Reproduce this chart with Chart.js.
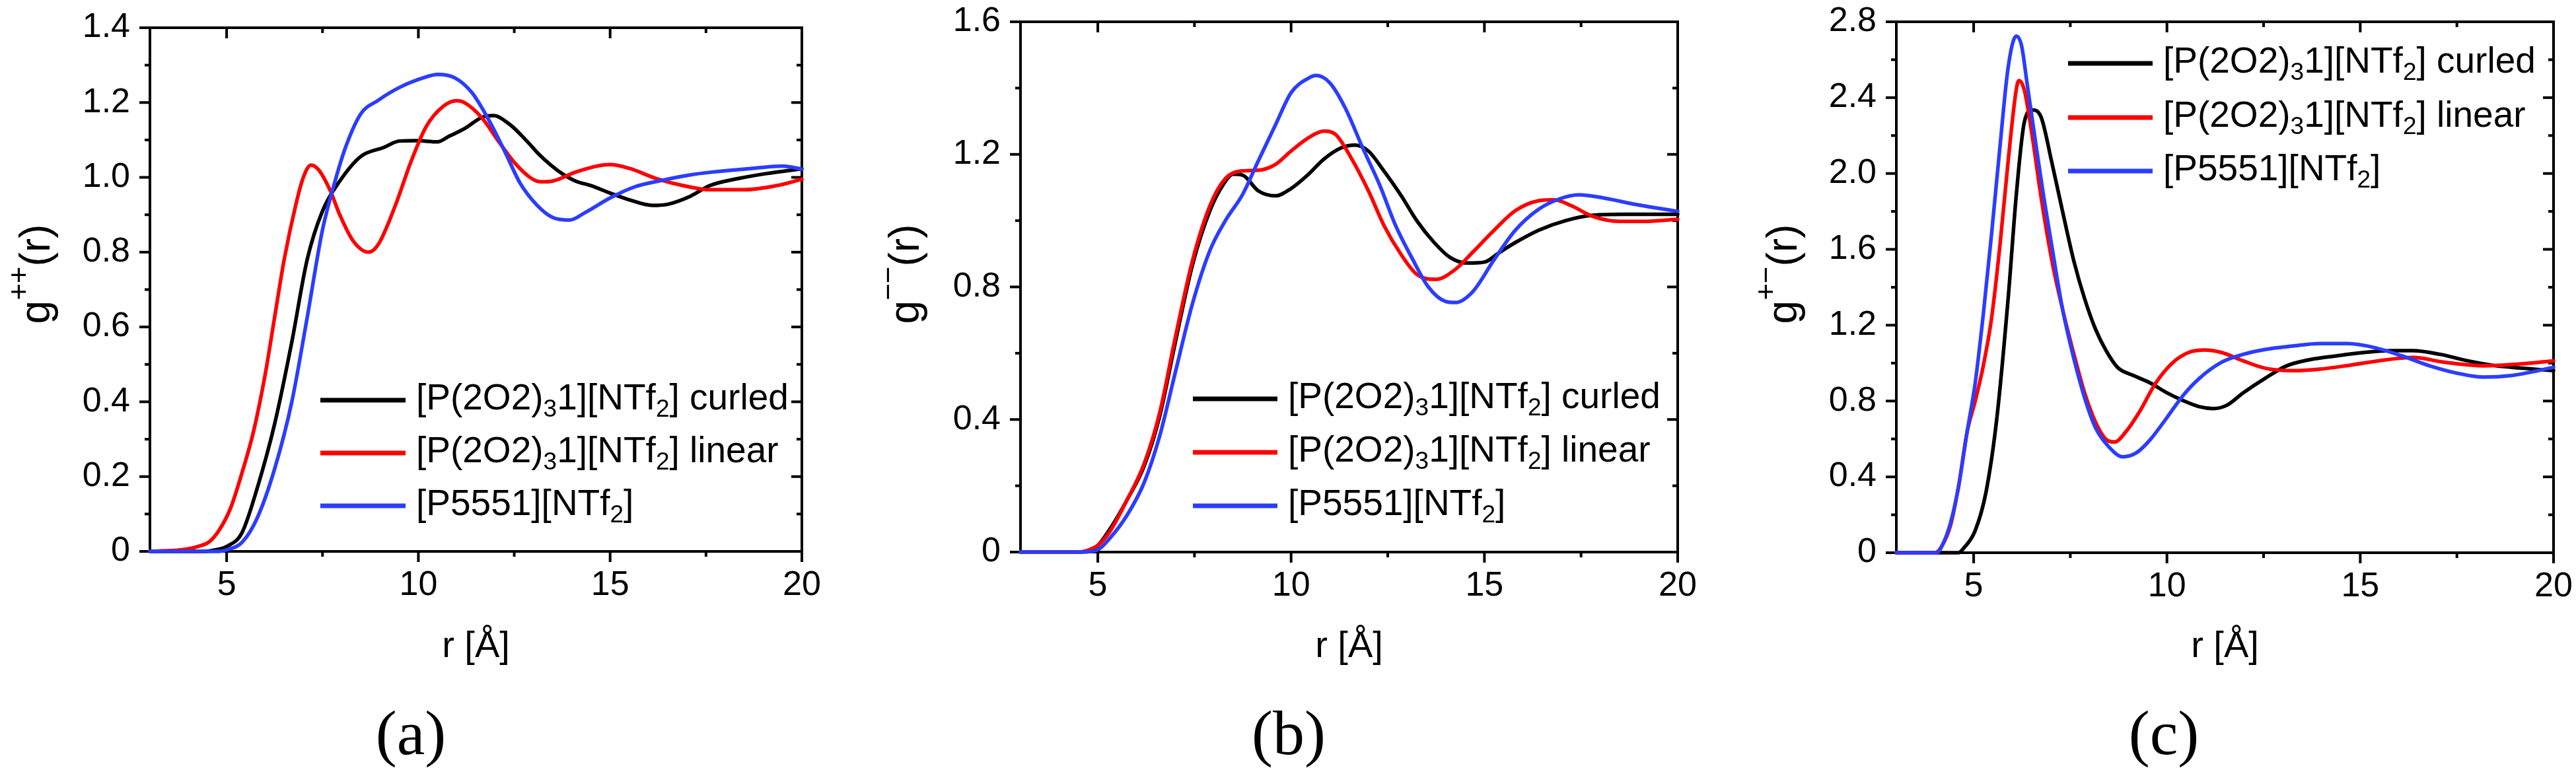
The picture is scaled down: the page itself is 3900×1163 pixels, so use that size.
<!DOCTYPE html>
<html>
<head>
<meta charset="utf-8">
<script src="https://cdn.jsdelivr.net/npm/chart.js@4.4.1/dist/chart.umd.min.js"></script>
<style>
  html, body { margin: 0; padding: 0; background: #fff; }
  body { width: 3900px; height: 1163px; position: relative; overflow: hidden; }
  canvas { position: absolute; top: 0; }
  .tag { position: absolute; top: 1062px; width: 300px; text-align: center;
         font-family: "Liberation Serif", "Times New Roman", serif; font-size: 96px; line-height: 96px; color: #000; }
</style>
</head>
<body>
<canvas id="panelA" width="1300" height="1163" style="left:0px"></canvas>
<canvas id="panelB" width="1300" height="1163" style="left:1300px"></canvas>
<canvas id="panelC" width="1300" height="1163" style="left:2600px"></canvas>
<div class="tag" style="left:472px">(a)</div>
<div class="tag" style="left:1801px">(b)</div>
<div class="tag" style="left:3126px">(c)</div>
<script>
(function () {
  'use strict';

  const PANEL_W = 1300, H = 1163;
  const FONT = '"Liberation Sans", Arial, sans-serif';

  // series names (_{} = subscript, ^{} = superscript) and colours
  const seriesNames  = ['[P(2O2)_{3}1][NTf_{2}] curled', '[P(2O2)_{3}1][NTf_{2}] linear', '[P5551][NTf_{2}]'];
  const seriesColors = ['#000000', '#ff0000', '#2b3dff'];

  const xTitle  = 'r [Å]';
  const yTitles = ['g^{++}(r)', 'g^{−−}(r)', 'g^{+−}(r)'];

  const xTicks  = [5, 10, 15, 20];
  const yTicksA = [0, 0.2, 0.4, 0.6, 0.8, 1.0, 1.2, 1.4];
  const yLabelsA = ['0', '0.2', '0.4', '0.6', '0.8', '1.0', '1.2', '1.4'];
  const yTicksB = [0, 0.4, 0.8, 1.2, 1.6];
  const yLabelsB = ['0', '0.4', '0.8', '1.2', '1.6'];
  const yTicksC = [0, 0.4, 0.8, 1.2, 1.6, 2.0, 2.4, 2.8];
  const yLabelsC = ['0', '0.4', '0.8', '1.2', '1.6', '2.0', '2.4', '2.8'];

  // (a) g++(r)
  const ppCurled = [[3,0],[4.4,0],[4.7,0.004],[5.0,0.013],[5.4,0.05],[5.8,0.17],[6.25,0.34],[6.7,0.56],[7.1,0.78],[7.5,0.91],[7.95,0.99],[8.5,1.056],[9.1,1.08],[9.5,1.097],[9.95,1.098],[10.5,1.095],[10.8,1.11],[11.2,1.13],[11.65,1.16],[11.95,1.165],[12.4,1.14],[12.8,1.10],[13.2,1.056],[13.65,1.017],[14.1,0.99],[14.5,0.978],[15.0,0.958],[15.5,0.94],[16.1,0.925],[16.5,0.928],[17.1,0.95],[17.6,0.978],[18.35,0.997],[19.07,1.01],[20,1.023]];
  const ppLinear = [[3,0],[3.5,0.002],[3.8,0.004],[4.25,0.013],[4.55,0.026],[4.8,0.056],[5.1,0.115],[5.4,0.21],[5.7,0.32],[6.0,0.47],[6.25,0.625],[6.5,0.78],[6.8,0.925],[7.0,1.0],[7.2,1.033],[7.4,1.02],[7.7,0.965],[7.95,0.9],[8.3,0.83],[8.7,0.80],[8.95,0.82],[9.4,0.925],[9.8,1.04],[10.2,1.135],[10.65,1.19],[11.0,1.205],[11.2,1.2],[11.65,1.16],[12.1,1.095],[12.5,1.04],[12.95,0.997],[13.2,0.988],[13.5,0.99],[14.1,1.014],[14.65,1.03],[15.0,1.034],[15.5,1.024],[16.2,0.997],[16.9,0.978],[17.6,0.967],[18.5,0.967],[19.35,0.978],[20,0.995]];
  const ppP5551  = [[3,0],[4.8,0],[5.0,0.004],[5.4,0.024],[5.8,0.09],[6.25,0.22],[6.7,0.40],[7.1,0.625],[7.5,0.86],[7.8,0.98],[8.1,1.08],[8.5,1.17],[8.95,1.206],[9.5,1.24],[10.1,1.265],[10.5,1.275],[10.95,1.266],[11.4,1.226],[11.8,1.16],[12.25,1.07],[12.65,0.985],[13.1,0.925],[13.5,0.893],[13.95,0.886],[14.35,0.906],[15.0,0.945],[15.65,0.975],[16.35,0.992],[17.05,1.006],[17.65,1.014],[18.8,1.025],[19.5,1.03],[20,1.022]];

  // (b) g--(r)
  const mmCurled = [[3,0],[4.5,0],[4.8,0.006],[5.0,0.02],[5.3,0.067],[5.75,0.156],[6.2,0.26],[6.6,0.41],[7.0,0.63],[7.45,0.867],[7.9,1.03],[8.25,1.11],[8.5,1.14],[8.75,1.137],[9.15,1.09],[9.6,1.075],[10.0,1.097],[10.45,1.14],[10.85,1.186],[11.3,1.22],[11.65,1.228],[12.0,1.21],[12.4,1.15],[12.85,1.075],[13.25,1.0],[13.7,0.934],[14.1,0.89],[14.55,0.872],[15.0,0.875],[15.4,0.905],[15.8,0.934],[16.4,0.971],[17.1,1.0],[17.8,1.016],[18.65,1.019],[20,1.019]];
  const mmLinear = [[3,0],[4.5,0],[4.8,0.008],[5.0,0.02],[5.3,0.06],[5.75,0.156],[6.2,0.267],[6.6,0.42],[7.0,0.645],[7.45,0.88],[7.9,1.045],[8.3,1.127],[8.75,1.15],[9.15,1.152],[9.6,1.17],[10.0,1.21],[10.45,1.25],[10.85,1.27],[11.15,1.26],[11.55,1.19],[12.0,1.09],[12.4,0.986],[12.85,0.897],[13.25,0.838],[13.75,0.823],[14.25,0.853],[14.7,0.905],[15.25,0.971],[15.8,1.03],[16.4,1.06],[16.8,1.063],[17.25,1.045],[17.8,1.013],[18.5,0.998],[19.2,0.998],[20,1.004]];
  const mmP5551  = [[3,0],[4.6,0],[5.0,0.007],[5.3,0.04],[5.75,0.11],[6.2,0.21],[6.6,0.35],[7.0,0.54],[7.45,0.75],[7.9,0.91],[8.3,1.0],[8.75,1.08],[9.15,1.18],[9.6,1.29],[10.0,1.386],[10.45,1.43],[10.65,1.438],[11.0,1.416],[11.4,1.34],[11.85,1.22],[12.3,1.105],[12.7,0.986],[13.15,0.882],[13.55,0.80],[14.0,0.756],[14.25,0.753],[14.7,0.786],[15.25,0.882],[15.8,0.971],[16.4,1.034],[16.95,1.066],[17.45,1.078],[18.1,1.068],[18.95,1.048],[20,1.028]];

  // (c) g+-(r)
  const pmCurled = [[3,0],[4.6,0],[4.75,0.026],[5.04,0.117],[5.32,0.32],[5.6,0.71],[5.9,1.36],[6.1,1.88],[6.31,2.27],[6.52,2.335],[6.74,2.30],[7.02,2.06],[7.3,1.80],[7.59,1.54],[7.87,1.34],[8.15,1.18],[8.43,1.064],[8.72,0.978],[9.14,0.934],[9.57,0.895],[10.0,0.843],[10.4,0.804],[10.84,0.77],[11.2,0.76],[11.55,0.778],[11.97,0.843],[12.54,0.92],[13.1,0.986],[13.67,1.017],[14.38,1.038],[15.1,1.056],[15.8,1.066],[16.36,1.066],[17.07,1.046],[17.78,1.012],[18.5,0.986],[19.2,0.973],[20,0.96]];
  const pmLinear = [[3,0],[4.0,0],[4.19,0.04],[4.4,0.143],[4.61,0.35],[4.83,0.636],[5.04,0.80],[5.25,0.986],[5.46,1.232],[5.68,1.62],[5.89,2.06],[6.1,2.44],[6.17,2.49],[6.31,2.44],[6.52,2.19],[6.74,1.88],[7.02,1.544],[7.3,1.284],[7.59,1.05],[7.87,0.843],[8.15,0.69],[8.43,0.597],[8.65,0.584],[8.93,0.636],[9.28,0.74],[9.71,0.895],[10.13,0.999],[10.56,1.056],[10.98,1.069],[11.41,1.056],[11.97,1.012],[12.54,0.973],[13.25,0.96],[13.95,0.968],[14.8,0.991],[15.65,1.017],[16.36,1.03],[17.2,1.004],[18.2,0.986],[19.05,0.994],[20,1.012]];
  const pmP5551  = [[3,0],[4.05,0],[4.19,0.04],[4.4,0.156],[4.61,0.35],[4.83,0.636],[5.04,0.895],[5.25,1.258],[5.46,1.674],[5.68,2.14],[5.89,2.556],[6.1,2.724],[6.24,2.673],[6.38,2.478],[6.6,2.167],[6.81,1.88],[7.02,1.62],[7.3,1.284],[7.59,1.025],[7.87,0.817],[8.15,0.66],[8.5,0.558],[8.86,0.506],[9.21,0.527],[9.57,0.597],[10.0,0.713],[10.42,0.83],[10.84,0.92],[11.41,1.004],[11.97,1.046],[12.54,1.072],[13.25,1.09],[13.95,1.103],[14.66,1.103],[15.37,1.082],[16.08,1.038],[16.79,0.986],[17.5,0.947],[18.2,0.926],[18.9,0.934],[19.6,0.96],[20,0.978]];

  // split 'g^{++}(r)' into runs of normal / sub / super text
  function parseRich(s) {
    const parts = [];
    const re = /([_^])\{([^}]*)\}/g;
    let last = 0, m;
    while ((m = re.exec(s))) {
      if (m.index > last) parts.push({ t: s.slice(last, m.index), k: 0 });
      parts.push({ t: m[2], k: m[1] === '_' ? -1 : 1 });
      last = re.lastIndex;
    }
    if (last < s.length) parts.push({ t: s.slice(last), k: 0 });
    return parts;
  }

  function drawRich(ctx, s, x, y, size, center) {
    const parts = parseRich(s);
    const small = Math.round(size * 0.68);
    let w = 0;
    parts.forEach(p => {
      ctx.font = (p.k ? small : size) + 'px ' + FONT;
      p.w = ctx.measureText(p.t).width;
      w += p.w;
    });
    let cx = center ? x - w / 2 : x;
    parts.forEach(p => {
      ctx.font = (p.k ? small : size) + 'px ' + FONT;
      const dy = p.k === -1 ? size * 0.2 : (p.k === 1 ? -size * 0.5 : 0);
      ctx.fillText(p.t, cx, y + dy);
      cx += p.w;
    });
  }

  // major ticks 16px, minor ticks (midpoints) 8px
  function withMinor(arr) {
    const out = arr.map(v => [v, 16]);
    for (let i = 0; i < arr.length - 1; i++) out.push([(arr[i] + arr[i + 1]) / 2, 8]);
    return out;
  }

  const panelPlugin = {
    id: 'panel',
    beforeDatasetsDraw(chart, args, o) {
      const { ctx, chartArea: a, scales: { x, y } } = chart;
      ctx.save();
      ctx.strokeStyle = '#000';
      ctx.lineWidth = 4;
      ctx.strokeRect(a.left, a.top, a.right - a.left, a.bottom - a.top);
      const mark = (px, py, dx, dy) => { ctx.beginPath(); ctx.moveTo(px, py); ctx.lineTo(px + dx, py + dy); ctx.stroke(); };
      withMinor(o.xTicks).forEach(([v, len]) => {
        const px = x.getPixelForValue(v);
        mark(px, a.bottom, 0, len);     // outward
        mark(px, a.top, 0, len);        // inward mirror
      });
      withMinor(o.yTicks).forEach(([v, len]) => {
        const py = y.getPixelForValue(v);
        mark(a.left, py, -len, 0);      // outward
        mark(a.right, py, -len, 0);     // inward mirror
      });
      ctx.restore();
    },
    afterDraw(chart, args, o) {
      const { ctx, chartArea: a } = chart;
      ctx.save();
      ctx.fillStyle = '#000';
      ctx.textAlign = 'left';
      ctx.textBaseline = 'alphabetic';
      drawRich(ctx, xTitle, (a.left + a.right) / 2, o.xTitleY, 56, true);
      ctx.save();
      ctx.translate(o.yTitleX, o.yTitleY);
      ctx.rotate(-Math.PI / 2);
      drawRich(ctx, o.yTitle, 0, 0, 64, true);
      ctx.restore();
      const L = o.legend;
      chart.data.datasets.forEach((ds, i) => {
        const ry = L.rows[i];
        ctx.strokeStyle = ds.borderColor;
        ctx.lineWidth = 7;
        ctx.beginPath();
        ctx.moveTo(L.x0, ry);
        ctx.lineTo(L.x1, ry);
        ctx.stroke();
        ctx.fillStyle = '#000';
        drawRich(ctx, ds.label, L.x1 + 16, ry + 14, 55, false);
      });
      ctx.restore();
    }
  };

  function makePanel(id, cfg) {
    const datasets = cfg.series.map((pts, i) => ({
      label: seriesNames[i],
      data: pts.map(([x, y]) => ({ x, y })),
      borderColor: seriesColors[i],
      backgroundColor: seriesColors[i],
      borderWidth: 5.5,
      pointRadius: 0,
      cubicInterpolationMode: 'monotone',
      borderJoinStyle: 'round',
      borderCapStyle: 'round',
      clip: false,
      order: 3 - i
    }));
    const tickFont = { family: FONT, size: 52 };
    const noPad = s => { s.paddingLeft = 0; s.paddingRight = 0; s.paddingTop = 0; s.paddingBottom = 0; };
    return new Chart(document.getElementById(id).getContext('2d'), {
      type: 'line',
      data: { datasets },
      options: {
        responsive: false,
        animation: false,
        devicePixelRatio: 1,
        layout: { padding: { left: 0, top: cfg.area.top, right: PANEL_W - cfg.area.right, bottom: 0 } },
        scales: {
          x: {
            type: 'linear', min: 3, max: 20,
            afterBuildTicks: s => { s.ticks = xTicks.map(v => ({ value: v })); },
            afterFit: s => { s.height = H - cfg.area.bottom; noPad(s); },
            ticks: { font: tickFont, color: '#000', padding: 20, maxRotation: 0, autoSkip: false },
            grid: { display: false, drawTicks: false },
            border: { display: false }
          },
          y: {
            type: 'linear', min: 0, max: cfg.yMax,
            afterBuildTicks: s => { s.ticks = cfg.yTicks.map(v => ({ value: v })); },
            afterFit: s => { s.width = cfg.area.left; noPad(s); },
            ticks: { font: tickFont, color: '#000', padding: 30, autoSkip: false, callback: (v, i) => cfg.yLabels[i] },
            grid: { display: false, drawTicks: false },
            border: { display: false }
          }
        },
        plugins: {
          legend: { display: false },
          tooltip: { enabled: false },
          panel: {
            xTicks: xTicks, yTicks: cfg.yTicks,
            yTitle: cfg.yTitle, yTitleX: cfg.yTitleX, yTitleY: 415, xTitleY: 995,
            legend: cfg.legend
          }
        }
      },
      plugins: [panelPlugin]
    });
  }

  makePanel('panelA', {
    series: [ppCurled, ppLinear, ppP5551],
    yMax: 1.4, yTicks: yTicksA, yLabels: yLabelsA, yTitle: yTitles[0], yTitleX: 75,
    area: { left: 227, top: 42, right: 1214, bottom: 835 },
    legend: { x0: 485, x1: 614, rows: [606, 686, 766] }
  });
  makePanel('panelB', {
    series: [mmCurled, mmLinear, mmP5551],
    yMax: 1.6, yTicks: yTicksB, yLabels: yLabelsB, yTitle: yTitles[1], yTitleX: 91,
    area: { left: 245, top: 33, right: 1240, bottom: 836 },
    legend: { x0: 506, x1: 634, rows: [604, 685, 766] }
  });
  makePanel('panelC', {
    series: [pmCurled, pmLinear, pmP5551],
    yMax: 2.8, yTicks: yTicksC, yLabels: yLabelsC, yTitle: yTitles[2], yTitleX: 120,
    area: { left: 271, top: 33, right: 1266, bottom: 837 },
    legend: { x0: 531, x1: 659, rows: [96, 178, 259] }
  });
})();
</script>
</body>
</html>
